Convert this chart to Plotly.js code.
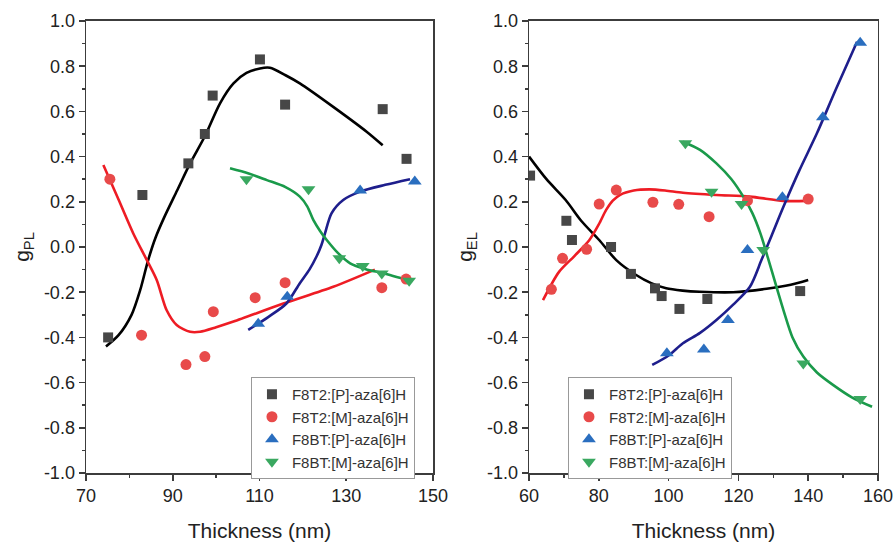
<!DOCTYPE html>
<html>
<head>
<meta charset="utf-8">
<script src="https://cdn.plot.ly/plotly-3.0.1.min.js"></script>
<style>html,body{margin:0;padding:0;background:#fff;}#chart{width:895px;height:544px;}</style>
</head>
<body>
<div id="chart"></div>
<script>
// ---------- Series names ----------
const seriesNames = ["F8T2:[P]-aza[6]H", "F8T2:[M]-aza[6]H", "F8BT:[P]-aza[6]H", "F8BT:[M]-aza[6]H"];

// ---------- Tick labels ----------
const yTickVals = [-1.0, -0.8, -0.6, -0.4, -0.2, 0.0, 0.2, 0.4, 0.6, 0.8, 1.0];
const yTickText = ["-1.0", "-0.8", "-0.6", "-0.4", "-0.2", "0.0", "0.2", "0.4", "0.6", "0.8", "1.0"];
const xTickValsPL = [70, 90, 110, 130, 150];
const xTickValsEL = [60, 80, 100, 120, 140, 160];

// ---------- Left panel (g_PL) ----------
const plF8T2P_x = [75.1, 83.0, 93.6, 97.4, 99.2, 110.1, 115.9, 138.4, 143.9];
const plF8T2P_y = [-0.40, 0.23, 0.37, 0.50, 0.67, 0.83, 0.63, 0.61, 0.39];
const plF8T2P_fitx = [74.6, 77.5, 80.5, 82.5, 84.3, 86.0, 88.0, 91.0, 94.0, 97.4, 100.9, 104.0, 107.0, 110.1, 112.4, 116.0, 119.3, 127.0, 134.7, 138.4];
const plF8T2P_fity = [-0.44, -0.39, -0.30, -0.19, -0.06, 0.04, 0.13, 0.25, 0.37, 0.49, 0.636, 0.724, 0.77, 0.79, 0.793, 0.76, 0.724, 0.62, 0.51, 0.45];

const plF8T2M_x = [75.5, 82.8, 93.05, 97.4, 99.35, 109.0, 115.9, 138.2, 143.8];
const plF8T2M_y = [0.30, -0.39, -0.52, -0.485, -0.286, -0.224, -0.158, -0.18, -0.142];
const plF8T2M_fitx = [74.0, 77.5, 80.9, 84.0, 86.3, 88.6, 90.9, 94.0, 96.3, 100.0, 104.0, 115.5, 127.0, 136.6];
const plF8T2M_fity = [0.363, 0.21, 0.06, -0.057, -0.146, -0.28, -0.345, -0.375, -0.375, -0.355, -0.33, -0.25, -0.176, -0.10];

const plF8BTP_x = [109.7, 116.4, 133.2, 145.8];
const plF8BTP_y = [-0.34, -0.22, 0.25, 0.29];
const plF8BTP_fitx = [107.4, 112.0, 116.2, 119.3, 121.5, 123.2, 124.3, 125.1, 126.6, 129.3, 133.2, 139.0, 144.7];
const plF8BTP_fity = [-0.367, -0.31, -0.25, -0.16, -0.10, -0.04, 0.01, 0.06, 0.149, 0.208, 0.245, 0.275, 0.30];

const plF8BTM_x = [107.0, 121.3, 128.4, 133.8, 138.2, 144.5];
const plF8BTM_y = [0.30, 0.255, -0.05, -0.084, -0.117, -0.149];
const plF8BTM_fitx = [103.2, 107.5, 111.7, 116.0, 119.3, 121.0, 122.4, 124.0, 125.5, 128.0, 130.9, 134.5, 138.5, 144.7];
const plF8BTM_fity = [0.348, 0.325, 0.296, 0.265, 0.223, 0.18, 0.12, 0.07, 0.031, -0.025, -0.072, -0.098, -0.116, -0.149];

// ---------- Right panel (g_EL) ----------
const elF8T2P_x = [60.3, 70.7, 72.3, 83.5, 89.2, 96.1, 98.0, 103.1, 111.1, 137.7];
const elF8T2P_y = [0.316, 0.116, 0.031, 0.0, -0.119, -0.183, -0.217, -0.274, -0.23, -0.195];
const elF8T2P_fitx = [60.0, 65.0, 70.5, 75.0, 80.1, 85.0, 90.7, 95.0, 99.3, 104.0, 108.9, 118.5, 128.1, 135.0, 140.0];
const elF8T2P_fity = [0.40, 0.30, 0.208, 0.115, 0.031, -0.058, -0.124, -0.160, -0.183, -0.193, -0.198, -0.200, -0.185, -0.167, -0.146];

const elF8T2M_x = [66.4, 69.6, 76.5, 80.1, 85.0, 95.5, 102.9, 111.6, 122.6, 140.0];
const elF8T2M_y = [-0.187, -0.05, -0.01, 0.19, 0.252, 0.198, 0.189, 0.134, 0.205, 0.212];
const elF8T2M_fitx = [64.0, 68.6, 73.0, 77.3, 80.0, 82.1, 84.0, 86.0, 90.0, 94.5, 99.0, 104.1, 113.7, 123.3, 132.9, 139.6];
const elF8T2M_fity = [-0.235, -0.11, -0.04, 0.031, 0.10, 0.164, 0.205, 0.23, 0.25, 0.255, 0.25, 0.24, 0.23, 0.223, 0.204, 0.204];

const elF8BTP_x = [99.5, 110.1, 117.0, 122.6, 132.6, 144.2, 154.9];
const elF8BTP_y = [-0.47, -0.453, -0.323, -0.013, 0.22, 0.574, 0.904];
const elF8BTP_fitx = [95.3, 100.0, 104.1, 109.0, 113.7, 118.5, 123.3, 126.6, 129.5, 132.9, 137.5, 142.5, 148.0, 154.0];
const elF8BTP_fity = [-0.522, -0.48, -0.426, -0.38, -0.323, -0.255, -0.176, -0.058, 0.05, 0.178, 0.34, 0.503, 0.70, 0.908];

const elF8BTM_x = [104.8, 112.3, 120.9, 127.1, 138.6, 154.9];
const elF8BTM_y = [0.459, 0.245, 0.19, -0.013, -0.515, -0.673];
const elF8BTM_fitx = [104.1, 109.0, 113.7, 118.0, 121.4, 124.0, 126.3, 129.2, 132.9, 135.5, 138.6, 142.5, 147.2, 152.5, 158.3];
const elF8BTM_fity = [0.466, 0.43, 0.37, 0.30, 0.223, 0.15, 0.06, -0.087, -0.279, -0.40, -0.485, -0.555, -0.611, -0.665, -0.707];

// ---------- Styles ----------
const markerColors = ["#474747", "#e84a4a", "#2a6ebf", "#3aa860"];
const lineColors = ["#000000", "#ee1c24", "#1e1e8c", "#1a9a4a"];
const symbols = ["square", "circle", "triangle-up", "triangle-down"];
const sizes = [10, 11, 12, 12];

function fitTrace(x, y, i, xa, ya) {
  return {x: x, y: y, xaxis: xa, yaxis: ya, mode: "lines", type: "scatter",
    line: {color: lineColors[i], width: 2.6, shape: "spline", smoothing: 0.8},
    showlegend: false, hoverinfo: "skip"};
}
function ptTrace(x, y, i, xa, ya, leg) {
  return {x: x, y: y, xaxis: xa, yaxis: ya, mode: "markers", type: "scatter",
    name: seriesNames[i], legend: leg,
    marker: {color: markerColors[i], symbol: symbols[i], size: sizes[i], line: {width: 0}}};
}

const data = [
  fitTrace(plF8T2P_fitx, plF8T2P_fity, 0, "x", "y"),
  fitTrace(plF8T2M_fitx, plF8T2M_fity, 1, "x", "y"),
  fitTrace(plF8BTP_fitx, plF8BTP_fity, 2, "x", "y"),
  fitTrace(plF8BTM_fitx, plF8BTM_fity, 3, "x", "y"),
  ptTrace(plF8T2P_x, plF8T2P_y, 0, "x", "y", "legend"),
  ptTrace(plF8T2M_x, plF8T2M_y, 1, "x", "y", "legend"),
  ptTrace(plF8BTP_x, plF8BTP_y, 2, "x", "y", "legend"),
  ptTrace(plF8BTM_x, plF8BTM_y, 3, "x", "y", "legend"),
  fitTrace(elF8T2P_fitx, elF8T2P_fity, 0, "x2", "y2"),
  fitTrace(elF8T2M_fitx, elF8T2M_fity, 1, "x2", "y2"),
  fitTrace(elF8BTP_fitx, elF8BTP_fity, 2, "x2", "y2"),
  fitTrace(elF8BTM_fitx, elF8BTM_fity, 3, "x2", "y2"),
  ptTrace(elF8T2P_x, elF8T2P_y, 0, "x2", "y2", "legend2"),
  ptTrace(elF8T2M_x, elF8T2M_y, 1, "x2", "y2", "legend2"),
  ptTrace(elF8BTP_x, elF8BTP_y, 2, "x2", "y2", "legend2"),
  ptTrace(elF8BTM_x, elF8BTM_y, 3, "x2", "y2", "legend2")
];

const axisCol = "#3c3c3c";
const fam = "Liberation Sans, Arial, sans-serif";
const tickFont = {family: fam, size: 18, color: "#222"};
const titleFont = {family: fam, size: 21, color: "#222"};
function xAxis(range, tickvals, tick0, domain, anchor) {
  return {domain: domain, anchor: anchor, range: range,
    tickmode: "array", tickvals: tickvals, ticktext: tickvals.map(String),
    showline: true, mirror: true, linecolor: axisCol, linewidth: 1.5,
    ticks: "outside", ticklen: 6, tickwidth: 1.5, tickcolor: axisCol,
    minor: {ticks: "outside", ticklen: 3, tickwidth: 1.5, tickcolor: axisCol, dtick: 10, tick0: tick0},
    showgrid: false, zeroline: false, tickfont: tickFont,
    title: {text: "Thickness (nm)", font: titleFont, standoff: 18}};
}
function yAxis(title, domain, anchor) {
  return {domain: domain, anchor: anchor, range: [-1.0, 1.0],
    tickmode: "array", tickvals: yTickVals, ticktext: yTickText,
    showline: true, mirror: true, linecolor: axisCol, linewidth: 1.5,
    ticks: "outside", ticklen: 6, tickwidth: 1.5, tickcolor: axisCol,
    minor: {ticks: "outside", ticklen: 3, tickwidth: 1.5, tickcolor: axisCol, dtick: 0.1, tick0: -1},
    showgrid: false, zeroline: false, tickfont: tickFont,
    title: {text: title, font: titleFont, standoff: 8}};
}
const legFont = {family: fam, size: 15, color: "#333"};
const layout = {
  width: 895, height: 544,
  margin: {l: 0, r: 0, t: 0, b: 0},
  paper_bgcolor: "#fff", plot_bgcolor: "#fff",
  xaxis: xAxis([70, 150], xTickValsPL, 70, [0.0961, 0.4838], "y"),
  yaxis: yAxis("g<sub>PL</sub>", [0.1305, 0.9614], "x"),
  xaxis2: xAxis([60, 160], xTickValsEL, 60, [0.5911, 0.981], "y2"),
  yaxis2: yAxis("g<sub>EL</sub>", [0.1305, 0.9614], "x2"),
  legend: {x: 0.2804, y: 0.307, xanchor: "left", yanchor: "top", bgcolor: "#fff",
    bordercolor: "#999", borderwidth: 1, font: legFont, tracegroupgap: 0},
  legend2: {x: 0.6346, y: 0.307, xanchor: "left", yanchor: "top", bgcolor: "#fff",
    bordercolor: "#999", borderwidth: 1, font: legFont, tracegroupgap: 0},
  showlegend: true
};
Plotly.newPlot("chart", data, layout, {displayModeBar: false, staticPlot: true});
</script>
</body>
</html>
